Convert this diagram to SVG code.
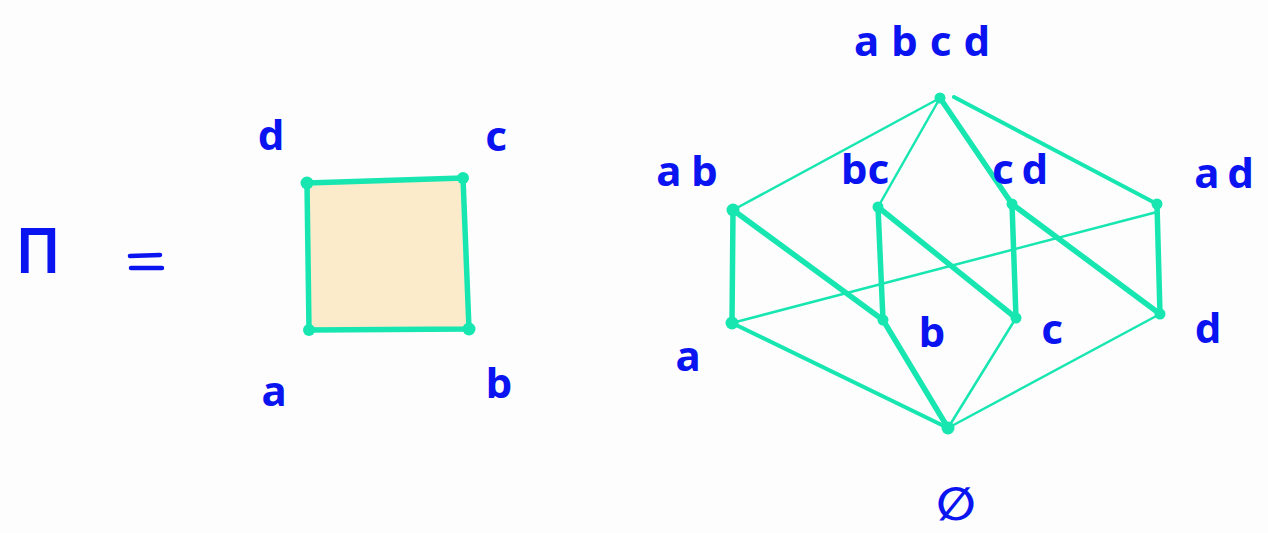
<svg xmlns="http://www.w3.org/2000/svg" width="1268" height="533" viewBox="0 0 1268 533">
<style>
.t{font-family:"Noto Sans",sans-serif;font-weight:bold;fill:#0a14f0;font-size:42px;text-anchor:middle}
.e{stroke:#17e6b0;fill:none;stroke-linecap:round;stroke-linejoin:round}
.k{stroke-width:5.5}
.m{stroke-width:4}
.n{stroke-width:2.5}
.dot{fill:#17e6b0}
</style>
<rect width="1268" height="533" fill="#fdfdfe"/>
<g id="pi-eq">
<text x="38" y="272" style="font-family:'DejaVu Sans',sans-serif;font-size:58px;fill:#0a14f0;stroke:#0a14f0;stroke-width:2;text-anchor:middle">Π</text>
<path d="M130 256 L160 255 M131 268 L162 268" stroke="#0a14f0" stroke-width="4.5" stroke-linecap="round" fill="none"/>
</g>
<g id="square">
<path d="M307 183 L463 178 L469 329 L309 330 Z" class="e k" style="fill:#fbebcb"/>
<circle class="dot" cx="307" cy="183" r="6.5"/>
<circle class="dot" cx="463" cy="178" r="6"/>
<circle class="dot" cx="469" cy="329" r="6.5"/>
<circle class="dot" cx="309" cy="330" r="6"/>
<text class="t" x="271" y="150">d</text>
<text class="t" x="496" y="151">c</text>
<text class="t" x="274" y="406">a</text>
<text class="t" x="499" y="398">b</text>
</g>
<g id="connectors">
<path class="e n" d="M940 98 L733 210"/>
<path class="e n" d="M940 98 L878 207"/>
<path class="e k" d="M940 98 L1012 204"/>
<path class="e m" d="M954 97 L1157 204"/>
<path class="e k" d="M733 210 L732 323"/>
<path class="e k" d="M733 210 L883 320"/>
<path class="e k" d="M878 207 L883 320"/>
<path class="e k" d="M878 207 L1016 318"/>
<path class="e k" d="M1012 204 L1016 318"/>
<path class="e k" d="M1012 204 L1160 314"/>
<path class="e k" d="M1157 204 L1160 314"/>
<path class="e n" d="M732 323 L1157 212"/>
<path class="e m" d="M732 323 L948 428"/>
<path class="e k" d="M883 320 L948 428"/>
<path class="e n" d="M1016 318 L948 428"/>
<path class="e n" d="M1160 314 L948 428"/>
</g>
<g id="n-abcd"><circle class="dot" cx="940" cy="98" r="5.5"/><text class="t" x="928" y="56" letter-spacing="12">abcd</text></g>
<g id="n-ab"><circle class="dot" cx="733" cy="210" r="6.5"/><text class="t" x="692" y="186" letter-spacing="10">ab</text></g>
<g id="n-bc"><circle class="dot" cx="878" cy="207" r="5.5"/><text class="t" x="865" y="184">bc</text></g>
<g id="n-cd"><circle class="dot" cx="1012" cy="204" r="5.5"/><text class="t" x="1024" y="184" letter-spacing="8">cd</text></g>
<g id="n-ad"><circle class="dot" cx="1157" cy="204" r="5.5"/><text class="t" x="1228" y="188" letter-spacing="8">ad</text></g>
<g id="n-a"><circle class="dot" cx="732" cy="323" r="6.5"/><text class="t" x="688" y="371">a</text></g>
<g id="n-b"><circle class="dot" cx="883" cy="320" r="5.5"/><text class="t" x="932" y="347">b</text></g>
<g id="n-c"><circle class="dot" cx="1016" cy="318" r="5.5"/><text class="t" x="1052" y="344">c</text></g>
<g id="n-d"><circle class="dot" cx="1160" cy="314" r="5.5"/><text class="t" x="1208" y="343">d</text></g>
<g id="n-empty"><circle class="dot" cx="948" cy="428" r="6.5"/><text x="956" y="520" style="font-family:'DejaVu Sans',sans-serif;font-weight:bold;font-size:46px;fill:#0a14f0;text-anchor:middle">∅</text></g>
</svg>
